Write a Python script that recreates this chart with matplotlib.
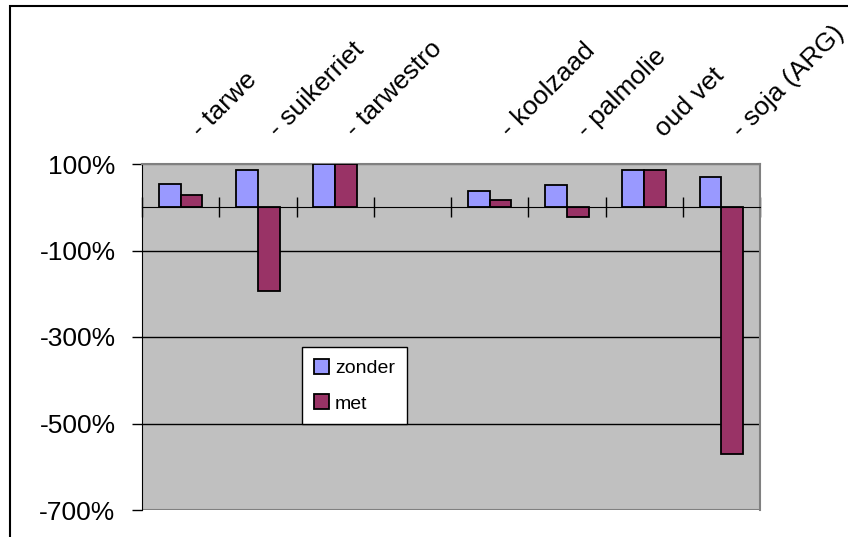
import numpy as np
import matplotlib
matplotlib.use("Agg")
import matplotlib.pyplot as plt
from matplotlib.patches import Rectangle
from matplotlib.ticker import FixedLocator
import matplotlib.transforms as mtransforms

plt.rcParams['font.family'] = ['Liberation Sans', 'DejaVu Sans']

# data (percent)
categories = ["- tarwe", "- suikerriet", "- tarwestro", "", "- koolzaad",
              "- palmolie", "oud vet", "- soja (ARG)"]
zonder = [54, 86, 100, np.nan, 38, 52, 86, 70]
met = [29, -193, 100, np.nan, 17, -23, 86, -571]
y_ticks = [100, -100, -300, -500, -700]
y_labels = ["100%", "-100%", "-300%", "-500%", "-700%"]

W, H = 848, 537
fig = plt.figure(figsize=(W / 100, H / 100), dpi=100)
fig.patch.set_facecolor("white")

# outer chart border (only left and top visible)
fig.add_artist(Rectangle((10 / W, -0.1), 1.2, 1 - 6 / H + 0.1,
                         transform=fig.transFigure, fill=False,
                         edgecolor="black", linewidth=1.5))

ax = fig.add_axes([142 / W, 1 - 510 / H, (760 - 142) / W, (510 - 164) / H])
ax.set_facecolor("#C0C0C0")

x = np.arange(len(categories))
bw = 0.28
ax.bar(x - bw / 2, zonder, bw, color="#9999FF", edgecolor="black",
       linewidth=1.3, label="zonder", zorder=3)
ax.bar(x + bw / 2, met, bw, color="#993366", edgecolor="black",
       linewidth=1.3, label="met", zorder=3)

ax.set_xlim(-0.5, len(categories) - 0.5)
ax.set_ylim(-700, 100)
ax.set_yticks(y_ticks)
ax.set_yticklabels(y_labels, fontsize=19)
ax.yaxis.grid(True, color="black", linewidth=1)
ax.set_axisbelow(True)
gl = ax.get_ygridlines()
gl[0].set_color("#808080")
gl[-1].set_color("#808080")
gl[-1].set_linewidth(1.5)

# category axis sits on zero, ticks at category boundaries
ax.spines['bottom'].set_position(('data', 0))
ax.spines['bottom'].set_color("black")
ax.spines['bottom'].set_zorder(4)
ax.xaxis.set_major_locator(FixedLocator(np.arange(len(categories) + 1) - 0.5))
ax.tick_params(axis='x', direction='inout', length=14, width=1,
               labelbottom=False, color="black")
ax.tick_params(axis='y', length=7, width=1, pad=12, color="black")
ax.spines['left'].set_color("black")
for s in ['top', 'right']:
    ax.spines[s].set_color("#808080")
    ax.spines[s].set_linewidth(1.5)

# rotated category labels above the plot
trans = mtransforms.blended_transform_factory(ax.transData, ax.transAxes)
for i, lab in enumerate(categories):
    ax.text(i + 0.26, 1.075, lab, transform=trans, rotation=45,
            rotation_mode='anchor', ha='left', va='baseline', fontsize=19)

leg = ax.legend(loc='upper left', bbox_to_anchor=(302 / W, 1 - 347 / H),
                bbox_transform=fig.transFigure, fontsize=14, frameon=True,
                fancybox=False, framealpha=1, edgecolor="black",
                handlelength=0.8, handleheight=0.8, handletextpad=0.3,
                borderpad=0.6, labelspacing=0.9, borderaxespad=0)
leg.get_frame().set_linewidth(1)

fig.savefig("out.png", dpi=100)
